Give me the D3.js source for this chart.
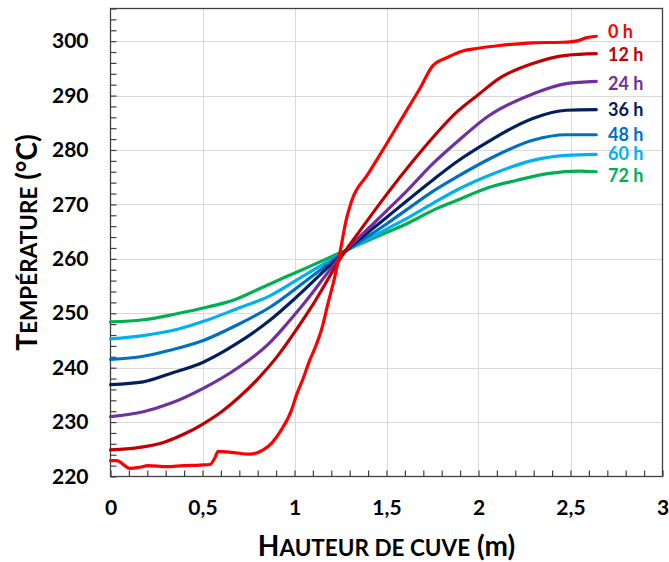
<!DOCTYPE html>
<html><head><meta charset="utf-8">
<script src="https://cdn.jsdelivr.net/npm/d3@7"></script>
<style>
html,body{margin:0;padding:0;background:#fff;}
svg{display:block;font-family:Lato, "Open Sans", sans-serif;font-weight:bold;}
</style></head>
<body><svg id="chart" width="669" height="562"></svg>
<script>
// ---- data (height in m, temperature in °C) ----
const seriesNames = ["0 h","12 h","24 h","36 h","48 h","60 h","72 h"];
const seriesColors = ["#ff0000","#c00000","#7030a0","#002060","#0070c0","#00b0f0","#00b050"];
const labelTemps = [301.7, 297.6, 292.3, 287.5, 282.9, 279.3, 275.4];

const h0X = [0,0.033,0.106,0.159,0.205,0.305,0.395,0.486,0.54,0.567,0.585,0.667,0.757,0.83,0.875,0.929,0.984,1.011,1.047,1.083,1.11,1.147,1.182,1.219,1.246,1.282,1.31,1.4,1.5,1.608,1.68,1.752,1.83,1.915,2.0,2.115,2.295,2.458,2.53,2.585,2.64];
const h0T = [222.9,222.9,221.5,221.7,222.0,221.8,222.0,222.1,222.2,223.4,224.6,224.4,224.1,224.9,226.1,228.6,232.2,235.0,238.0,241.4,243.5,247.0,251.8,256.7,261.0,267.3,270.6,275.6,281.1,287.2,291.2,295.5,297.0,298.2,298.7,299.2,299.7,299.8,300.0,300.6,300.9];

const h12X = [0,0.15,0.3,0.4,0.5,0.6,0.7,0.8,0.9,1.0,1.1,1.273,1.337,1.5,1.635,1.752,1.88,2.0,2.115,2.295,2.477,2.64];
const h12T = [224.9,225.3,226.4,227.8,229.6,231.8,234.6,237.9,241.8,246.5,251.6,261.3,264.3,271.8,277.6,282.3,286.9,290.2,293.2,295.9,297.4,297.7];

const h24X = [0,0.178,0.323,0.504,0.685,0.866,0.947,1.047,1.273,1.427,1.503,1.608,1.752,1.88,2.056,2.295,2.477,2.64];
const h24T = [231.0,231.9,233.4,236.2,239.8,244.6,247.6,251.6,261.3,266.4,268.9,272.4,277.5,281.4,286.3,290.3,292.2,292.6];

const h36X = [0,0.178,0.323,0.504,0.685,0.866,0.992,1.273,1.5,1.608,1.752,1.88,2.056,2.295,2.477,2.64];
const h36T = [236.9,237.4,238.9,241.0,244.4,248.7,252.4,261.3,267.6,270.6,274.5,277.8,281.6,285.8,287.3,287.4];

const h48X = [0,0.178,0.323,0.504,0.685,0.866,1.056,1.273,1.5,1.608,1.752,1.88,2.056,2.295,2.477,2.64];
const h48T = [241.5,242.1,243.2,245.0,247.8,251.1,255.8,261.3,266.4,269.0,272.4,275.0,278.3,281.8,282.8,282.8];

const h60X = [0,0.178,0.359,0.522,0.685,0.866,1.056,1.273,1.503,1.608,1.752,1.88,2.056,2.295,2.477,2.64];
const h60T = [245.3,245.9,247.0,248.7,250.8,253.2,257.0,261.3,265.5,267.4,270.2,272.6,275.3,278.1,279.0,279.2];

const h72X = [0,0.178,0.359,0.522,0.667,0.803,0.947,1.056,1.273,1.503,1.608,1.752,1.88,2.056,2.205,2.386,2.549,2.64];
const h72T = [248.4,248.8,249.9,251.1,252.4,254.4,256.6,258.2,261.5,264.9,266.4,268.9,270.7,273.1,274.4,275.7,276.1,276.0];

const xMajorTicks = [0,0.5,1,1.5,2,2.5,3];
const yMajorTicks = [220,230,240,250,260,270,280,290,300];
const xTitleCap = "H", xTitleSmall = "AUTEUR DE CUVE", xTitleTail = " (m)";
const yTitleCap = "T", yTitleSmall = "EMPÉRATURE", yTitleTail = " (°C)";

// ---- layout ----
const svg = d3.select("#chart");
const L = 110.5, R = 662.5, T = 8.5, B = 476.5;
const x = d3.scaleLinear().domain([0,3]).range([L,R]);
const y = d3.scaleLinear().domain([220,306]).range([B,T]);

const seriesX = [h0X,h12X,h24X,h36X,h48X,h60X,h72X];
const seriesT = [h0T,h12T,h24T,h36T,h48T,h60T,h72T];

// gridlines
const grid = svg.append("g");
grid.selectAll(".gx").data(xMajorTicks.slice(1,-1)).join("line")
  .attr("x1",d=>Math.round(x(d))+0.5).attr("x2",d=>Math.round(x(d))+0.5)
  .attr("y1",T).attr("y2",B).attr("stroke","#d9d9d9").attr("stroke-width",1);
grid.selectAll(".gy").data(yMajorTicks.slice(1)).join("line")
  .attr("y1",d=>Math.round(y(d))+0.5).attr("y2",d=>Math.round(y(d))+0.5)
  .attr("x1",L).attr("x2",R).attr("stroke","#d9d9d9").attr("stroke-width",1);

// axes with inward ticks
const fmt = d => String(d).replace(".", ",");
const xMinor = d3.range(0, 30.5, 1).map(d=>d/10);
const yMinor = d3.range(220, 306.5, 2);

const xAxisMinor = d3.axisTop(x).tickValues(xMinor).tickSize(6).tickFormat("");
const yAxisMinor = d3.axisRight(y).tickValues(yMinor).tickSize(6).tickFormat("");
const gxm = svg.append("g").attr("transform",`translate(0,${B})`).call(xAxisMinor);
const gym = svg.append("g").attr("transform",`translate(${L},0)`).call(yAxisMinor);
[gxm,gym].forEach(g=>{
  g.select(".domain").remove();
  g.selectAll("line").attr("stroke","#404040").attr("stroke-width",1.2);
});

const xAxis = d3.axisBottom(x).tickValues(xMajorTicks).tickSize(0).tickPadding(24).tickFormat(fmt);
const yAxis = d3.axisLeft(y).tickValues(yMajorTicks).tickSize(0).tickPadding(22).tickFormat(d=>d);
const gx = svg.append("g").attr("transform",`translate(0,${B})`).call(xAxis);
const gy = svg.append("g").attr("transform",`translate(${L},0)`).call(yAxis);
[gx,gy].forEach(g=>{
  g.select(".domain").remove();
  g.selectAll("text").attr("font-family","Lato, 'Open Sans', sans-serif")
    .attr("font-weight","bold").attr("font-size",21).attr("fill","#000");
});

// frame
svg.append("rect").attr("x",L).attr("y",T).attr("width",R-L).attr("height",B-T)
  .attr("fill","none").attr("stroke","#404040").attr("stroke-width",1.3);

// lines
const line = d3.line().x(d=>x(d[0])).y(d=>y(d[1])).curve(d3.curveMonotoneX);
const lines = svg.append("g");
for (let i = seriesX.length-1; i >= 0; i--) {
  const pts = seriesX[i].map((v,j)=>[v, seriesT[i][j]]);
  lines.append("path").datum(pts).attr("d",line)
    .attr("fill","none").attr("stroke",seriesColors[i]).attr("stroke-width",3.2)
    .attr("stroke-linejoin","round").attr("stroke-linecap","round");
}

// series labels
svg.append("g").selectAll("text").data(seriesNames).join("text")
  .attr("x",608).attr("y",(d,i)=>y(labelTemps[i]))
  .attr("dy","0.36em").attr("font-size",18).attr("font-weight","bold")
  .attr("fill",(d,i)=>seriesColors[i]).text(d=>d);

// axis titles with small caps
function titled(sel, cap, small, tail){
  sel.append("tspan").attr("font-size",28).text(cap);
  sel.append("tspan").attr("font-size",22.5).text(small);
  sel.append("tspan").attr("font-size",28).text(tail);
}
const xt = svg.append("text").attr("x",(L+R)/2).attr("y",556).attr("text-anchor","middle")
  .attr("font-weight","bold").attr("fill","#000");
titled(xt, xTitleCap, xTitleSmall, xTitleTail);
const yt = svg.append("text").attr("transform",`translate(36.5,${(T+B)/2}) rotate(-90)`)
  .attr("text-anchor","middle").attr("font-weight","bold").attr("fill","#000");
titled(yt, yTitleCap, yTitleSmall, yTitleTail);
</script></body></html>
